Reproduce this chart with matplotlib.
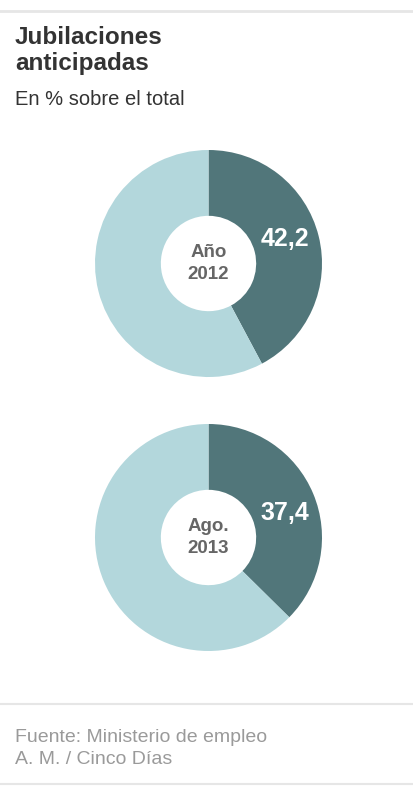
import matplotlib
matplotlib.use("Agg")
import matplotlib.pyplot as plt
from matplotlib.lines import Line2D

plt.rcParams['font.family'] = ['Liberation Sans', 'DejaVu Sans']

# Data
periods = ["Año\n2012", "Ago.\n2013"]
early_pct = [42.2, 37.4]
value_labels = ["42,2", "37,4"]

title_lines = ["Jubilaciones", "anticipadas"]
subtitle = "En % sobre el total"
footer_lines = ["Fuente: Ministerio de empleo", "A. M. / Cinco Días"]

dark = "#51767a"
light = "#b3d7dc"

W, H = 414, 795
fig = plt.figure(figsize=(W / 100, H / 100), dpi=100)
fig.patch.set_facecolor("white")

def fx(px):
    return px / W

def fy(py):
    return 1 - py / H

# separator lines
for y, lw in [(10.5, 2.0), (703.5, 1.5), (784, 1.5)]:
    fig.add_artist(Line2D([0, 1], [fy(y), fy(y)], color="#e6e6e6", lw=lw,
                          transform=fig.transFigure))

for line, yb in zip(title_lines, [44, 70]):
    fig.text(fx(15), fy(yb), line, fontsize=17.5, fontweight="bold",
             color="#333333", ha="left", va="baseline")
fig.text(fx(15), fy(105), subtitle, fontsize=14.5, color="#333333",
         ha="left", va="baseline")
for line, yb in zip(footer_lines, [742, 764]):
    fig.text(fx(15), fy(yb), line, fontsize=14, color="#9a9a9a",
             ha="left", va="baseline")

centers = [(208.5, 263.5), (208.5, 537.5)]
R = 113.5
hole = 0.42

for (cx, cy), per, val, lab in zip(centers, periods, early_pct, value_labels):
    ax = fig.add_axes([fx(cx - R), fy(cy + R), (2 * R) / W, (2 * R) / H])
    ax.pie([val, 100 - val], colors=[dark, light], startangle=90,
           counterclock=False, radius=1.0,
           wedgeprops=dict(width=1 - hole, edgecolor="none"))
    ax.set_xlim(-1, 1)
    ax.set_ylim(-1, 1)
    ax.set_aspect("equal", adjustable="box")
    ax.axis("off")
    ax.text(0, 0.0, per, ha="center", va="center", fontsize=13.5,
            fontweight="bold", color="#666666", linespacing=1.45)
    ax.text(0.67, 0.22, lab, ha="center", va="center", fontsize=18,
            fontweight="bold", color="white")

fig.savefig("out.png", dpi=100, facecolor="white")
